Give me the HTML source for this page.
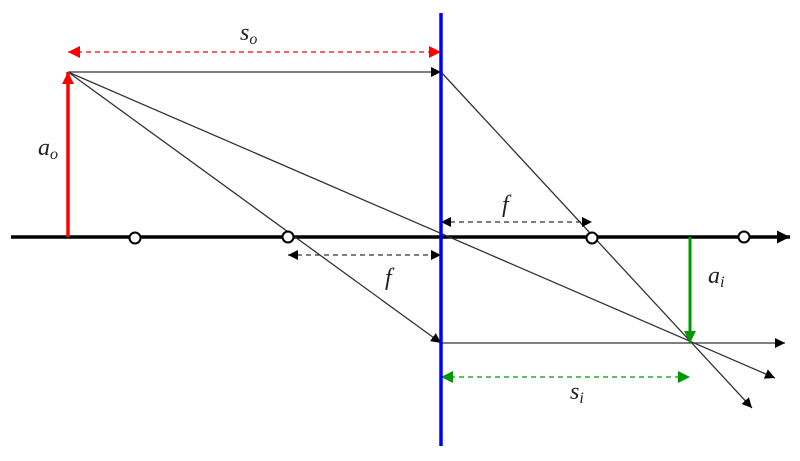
<!DOCTYPE html>
<html><head><style>body{margin:0;background:#fff}svg{display:block}text{font-family:"Liberation Serif",serif;font-style:italic;fill:#222}</style></head><body>
<svg width="800" height="461" viewBox="0 0 800 461">
<defs>
<marker id="k" viewBox="0 0 10 10" refX="10" refY="5" markerWidth="10" markerHeight="10" markerUnits="userSpaceOnUse" orient="auto-start-reverse"><path d="M0,0L10,5L0,10z" fill="#000"/></marker>
<marker id="kb" viewBox="0 0 10 10" refX="10" refY="5" markerWidth="13" markerHeight="13" markerUnits="userSpaceOnUse" orient="auto-start-reverse"><path d="M0,0L10,5L0,10z" fill="#000"/></marker>
<marker id="r" viewBox="0 0 10 10" refX="10" refY="5" markerWidth="12" markerHeight="12" markerUnits="userSpaceOnUse" orient="auto-start-reverse"><path d="M0,0L10,5L0,10z" fill="red"/></marker>
<marker id="g" viewBox="0 0 10 10" refX="10" refY="5" markerWidth="12" markerHeight="12" markerUnits="userSpaceOnUse" orient="auto-start-reverse"><path d="M0,0L10,5L0,10z" fill="#090"/></marker>
</defs>
<line x1="11" y1="237" x2="790" y2="237" stroke="#000" stroke-width="3.5" marker-end="url(#kb)"/>
<g stroke="#333" stroke-width="1.3" fill="none">
<line x1="68" y1="72" x2="441" y2="72" marker-end="url(#k)"/>
<line x1="441" y1="72" x2="752" y2="408" marker-end="url(#k)"/>
<line x1="68" y1="72" x2="775" y2="378" marker-end="url(#k)"/>
<line x1="68" y1="72" x2="441" y2="343" marker-end="url(#k)"/>
<line x1="441" y1="343" x2="785" y2="343" marker-end="url(#k)"/>
<line x1="441" y1="222" x2="592" y2="222" stroke-dasharray="5,4" marker-start="url(#k)" marker-end="url(#k)"/>
<line x1="288" y1="255" x2="441" y2="255" stroke-dasharray="5,4" marker-start="url(#k)" marker-end="url(#k)"/>
</g>
<line x1="68" y1="52" x2="441" y2="52" stroke="red" stroke-width="1.3" stroke-dasharray="5,4" marker-start="url(#r)" marker-end="url(#r)"/>
<line x1="441" y1="377" x2="690" y2="377" stroke="#090" stroke-width="1.3" stroke-dasharray="5,4" marker-start="url(#g)" marker-end="url(#g)"/>
<line x1="68" y1="237" x2="68" y2="72" stroke="red" stroke-width="3.5" marker-end="url(#r)"/>
<line x1="690" y1="237" x2="690" y2="343" stroke="#090" stroke-width="3" marker-end="url(#g)"/>
<line x1="441" y1="13" x2="441" y2="446" stroke="#00f" stroke-width="3.5"/>
<g fill="#fff" stroke="#000" stroke-width="2">
<circle cx="135" cy="238" r="5.5"/><circle cx="288" cy="237" r="5.5"/><circle cx="592" cy="238" r="5.5"/><circle cx="744" cy="237" r="5.5"/>
</g>
<text x="240" y="40" font-size="24">s<tspan font-size="16" dy="4">o</tspan></text>
<text x="38" y="155" font-size="24">a<tspan font-size="16" dy="4">o</tspan></text>
<text x="502" y="212" font-size="24">f</text>
<text x="385" y="285" font-size="24">f</text>
<text x="708" y="283" font-size="24">a<tspan font-size="16" dy="4">i</tspan></text>
<text x="570" y="399" font-size="24">s<tspan font-size="16" dy="4">i</tspan></text>
</svg>
</body></html>
